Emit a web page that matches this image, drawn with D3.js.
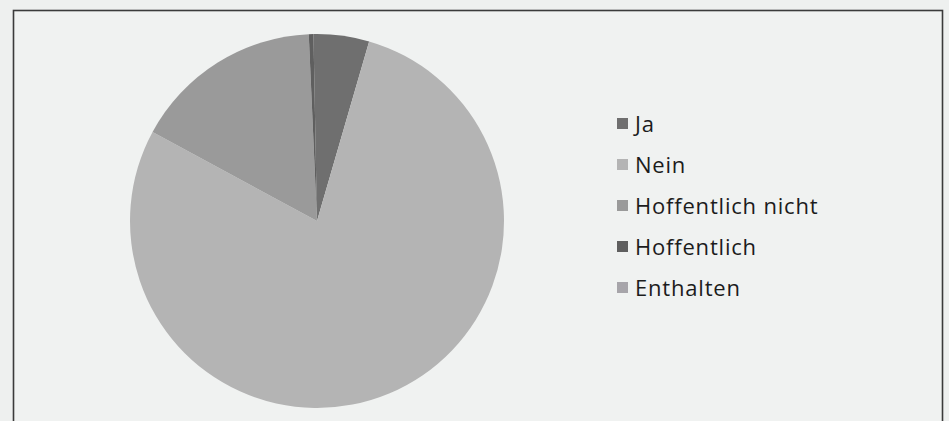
<!DOCTYPE html>
<html><head><meta charset="utf-8">
<script src="https://cdn.jsdelivr.net/npm/d3@7"></script>
<style>
html,body{margin:0;padding:0;background:#eef0ef;}
svg{display:block;}
</style></head>
<body>
<script>
const categories = ["Ja", "Nein", "Hoffentlich nicht", "Hoffentlich", "Enthalten"];
const values = [4.8, 78.4, 16.4, 0.4, 0.0];
const colors = ["#6f6f6f", "#b4b4b4", "#9a9a9a", "#5f5f5f", "#a7a5aa"];

const W = 949, H = 421;
const svg = d3.select("body").append("svg").attr("width", W).attr("height", H);
svg.append("rect").attr("width", W).attr("height", H).attr("fill", "#eef0ef");
svg.append("rect").attr("x", 13.5).attr("y", 10.5).attr("width", 929).attr("height", 430)
  .attr("fill", "#f0f2f1").attr("stroke", "#3b3b3b").attr("stroke-width", 1.6);

const color = d3.scaleOrdinal().domain(categories).range(colors);
const data = categories.map((c, i) => ({cat: c, val: values[i]}));
const pie = d3.pie().value(d => d.val).sort(null).startAngle(-0.019).endAngle(2 * Math.PI - 0.019);
const arc = d3.arc().innerRadius(0).outerRadius(187);

const g = svg.append("g").attr("transform", "translate(317,221)");
g.selectAll("path").data(pie(data)).join("path")
  .attr("d", arc).attr("fill", d => color(d.data.cat));

const y = d3.scalePoint().domain(categories).range([124, 288]);
const leg = svg.append("g");
const row = leg.selectAll("g").data(categories).join("g")
  .attr("transform", c => `translate(617,${y(c)})`);
row.append("rect").attr("x", 0).attr("y", -6).attr("width", 11).attr("height", 11)
  .attr("fill", c => color(c));
row.append("text").attr("x", 18).attr("y", 0).attr("dy", "0.36em")
  .attr("font-family", "'Open Sans', sans-serif").attr("font-size", 22)
  .attr("letter-spacing", 0.8)
  .attr("fill", "#1c1c1c").text(c => c);
</script>
</body></html>
